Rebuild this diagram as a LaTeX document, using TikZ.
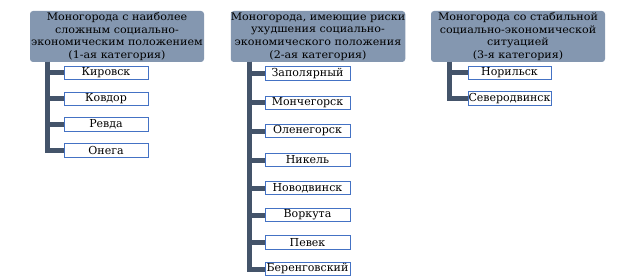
\documentclass[tikz,border=0pt]{standalone}
\usepackage{fontspec}
\setmainfont{DejaVu Serif}
\newfontfamily\hdrfont[FakeStretch=1.07]{DejaVu Serif}
\definecolor{hdrc}{HTML}{8497B0}
\definecolor{trunkc}{HTML}{44546A}
\definecolor{cbord}{HTML}{4472C4}
\begin{document}
\begin{tikzpicture}[x=1pt,y=-1pt,
 hdr/.style={fill=hdrc, rounded corners=3pt, minimum width=174pt, minimum height=51pt, align=center, inner sep=0pt, font=\hdrfont\fontsize{10.4}{12.6}\selectfont},
 city/.style={draw=cbord, line width=0.7pt, fill=white, minimum width=84pt, minimum height=13.5pt, inner sep=0pt, font=\fontsize{11}{12}\selectfont},
 link/.style={draw=trunkc, line width=5pt}]
\useasboundingbox (0,0) rectangle (635,278);
\node[hdr] (h1) at (117,36.5) {Моногорода с наиболее\\ сложным социально-\\ экономическим положением\\ (1-ая категория)};
\node[hdr] (h2) at (318,36.5) {Моногорода, имеющие риски\\ ухудшения социально-\\ экономического положения\\ (2-ая категория)};
\node[hdr] (h3) at (518,36.5) {Моногорода со стабильной\\ социально-экономической\\ ситуацией\\ (3-я категория)};
\coordinate (t1) at (47.5,62);
\coordinate (t2) at (249.5,62);
\coordinate (t3) at (449,62);
% column 1
\node[city] (a1) at (106,73) {Кировск};
\node[city] (a2) at (106,99) {Ковдор};
\node[city] (a3) at (106,124.5) {Ревда};
\node[city] (a4) at (106,150.5) {Онега};
% column 2
\node[city,minimum width=85pt] (b1) at (307.5,73.5) {Заполярный};
\node[city,minimum width=85pt] (b2) at (307.5,103) {Мончегорск};
\node[city,minimum width=85pt] (b3) at (307.5,131) {Оленегорск};
\node[city,minimum width=85pt] (b4) at (307.5,160) {Никель};
\node[city,minimum width=85pt] (b5) at (307.5,188) {Новодвинск};
\node[city,minimum width=85pt] (b6) at (307.5,215) {Воркута};
\node[city,minimum width=85pt] (b7) at (307.5,242.5) {Певек};
\node[city,minimum width=85pt] (b8) at (307.5,269) {Беренговский};
% column 3
\node[city,minimum width=83pt] (c1) at (509.5,73) {Норильск};
\node[city,minimum width=83pt] (c2) at (509.5,98.5) {Северодвинск};
\foreach \n in {a1,a2,a3,a4} {\draw[link] (t1) |- (\n.west);}
\foreach \n in {b1,b2,b3,b4,b5,b6,b7,b8} {\draw[link] (t2) |- (\n.west);}
\foreach \n in {c1,c2} {\draw[link] (t3) |- (\n.west);}
\end{tikzpicture}
\end{document}
